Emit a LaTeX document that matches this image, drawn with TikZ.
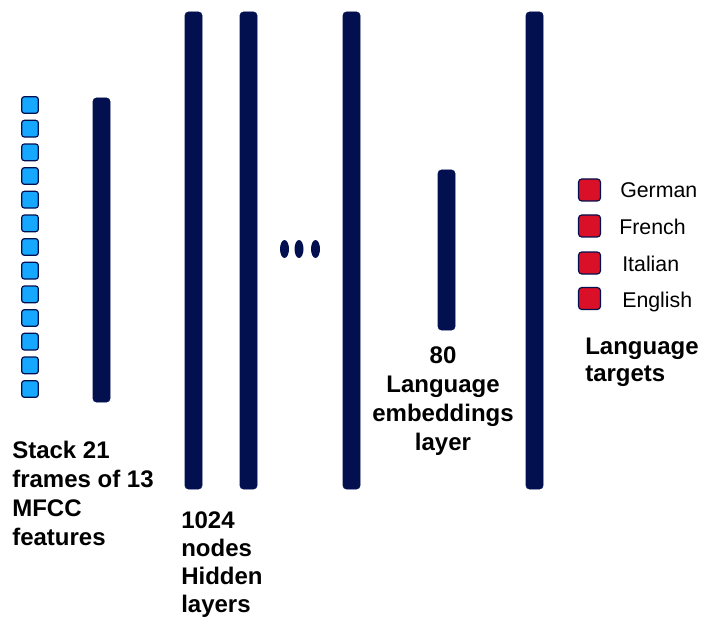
\documentclass[tikz,border=0pt]{standalone}
\usepackage{fontspec}
\setmainfont{Liberation Sans}
\usepackage{tikz}
\usetikzlibrary{matrix,shapes.geometric}
\usepackage{xcolor}

\definecolor{netnavy}{RGB}{2,16,80}
\definecolor{inblue}{RGB}{22,168,255}
\definecolor{tgtred}{RGB}{218,16,40}

\begin{document}
\begin{tikzpicture} [x=0.75pt, y=-0.75pt
  , layer/.style={draw=netnavy, fill=netnavy, rounded corners=2.5pt, minimum width=12.75pt, inner sep=0pt}
  , inp/.style={draw=netnavy, fill=inblue, line width=0.9pt, rounded corners=2pt, minimum size=12.5pt, inner sep=0pt}
  , tgt/.style={draw=netnavy, fill=tgtred, line width=0.9pt, rounded corners=2.5pt, minimum size=16.5pt, inner sep=0pt}
  , dotnode/.style={ellipse, fill=netnavy, minimum width=6.75pt, minimum height=13.5pt, inner sep=0pt}
  , caption/.style={font=\fontsize{18}{21.75}\selectfont\bfseries, inner sep=0pt}
  , lang/.style={font=\fontsize{16}{19}\selectfont, inner sep=0pt, anchor=base west}
]
  \useasboundingbox (0,0) rectangle (705,623);
  % input frames
  \matrix (in) [
    matrix of nodes
    , nodes in empty cells
    , nodes={inp}
    , row sep=4.35pt
    , inner sep=0pt
  ] at (30,247) {
    \\ \\ \\ \\ \\ \\ \\ \\ \\ \\ \\ \\ \\
  };
  % layers
  \node[layer, minimum height=228pt] (stack) at (101.5,250) {};
  \node[layer, minimum height=357.75pt] (h1) at (193.5,250.5) {};
  \node[layer, minimum height=357.75pt] (h2) at (248.5,250.5) {};
  \node[layer, minimum height=357.75pt] (h3) at (351.5,250.5) {};
  \node[layer, minimum height=120pt] (emb) at (446.5,250) {};
  \node[layer, minimum height=357.75pt] (out) at (534.5,250.5) {};
  %dots
  \node[dotnode] (d1) at (284.5,249) {};
  \node[dotnode] (d2) at (299,249) {};
  \node[dotnode] (d3) at (315.5,249) {};
  % targets
  \node[tgt] (de) at (589.5,190) {};
  \node[tgt] (fr) at (589.5,226) {};
  \node[tgt] (it) at (589.5,263) {};
  \node[tgt] (en) at (589.5,298.5) {};
  \node[lang] (de-l) at (620,198) {German};
  \node[lang] (fr-l) at (619,235) {French};
  \node[lang] (it-l) at (622,272) {Italian};
  \node[lang] (en-l) at (622,307) {English};
  % captions (base = last line)
  \node[caption, align=left, anchor=base west] (in-t) at (12,545)
    {Stack 21\\frames of 13\\MFCC\\features};
  \node[caption, align=left, anchor=base west, font=\fontsize{18}{21}\selectfont\bfseries] (h-t) at (181,612)
    {1024\\nodes\\Hidden\\layers};
  \node[caption, align=center, anchor=base] (emb-t) at (443,450)
    {80\\Language\\embeddings\\layer};
  \node[caption, align=left, anchor=base west, font=\fontsize{18}{20.25}\selectfont\bfseries] (tgt-t) at (585,381)
    {Language\\targets};
\end{tikzpicture}
\end{document}
